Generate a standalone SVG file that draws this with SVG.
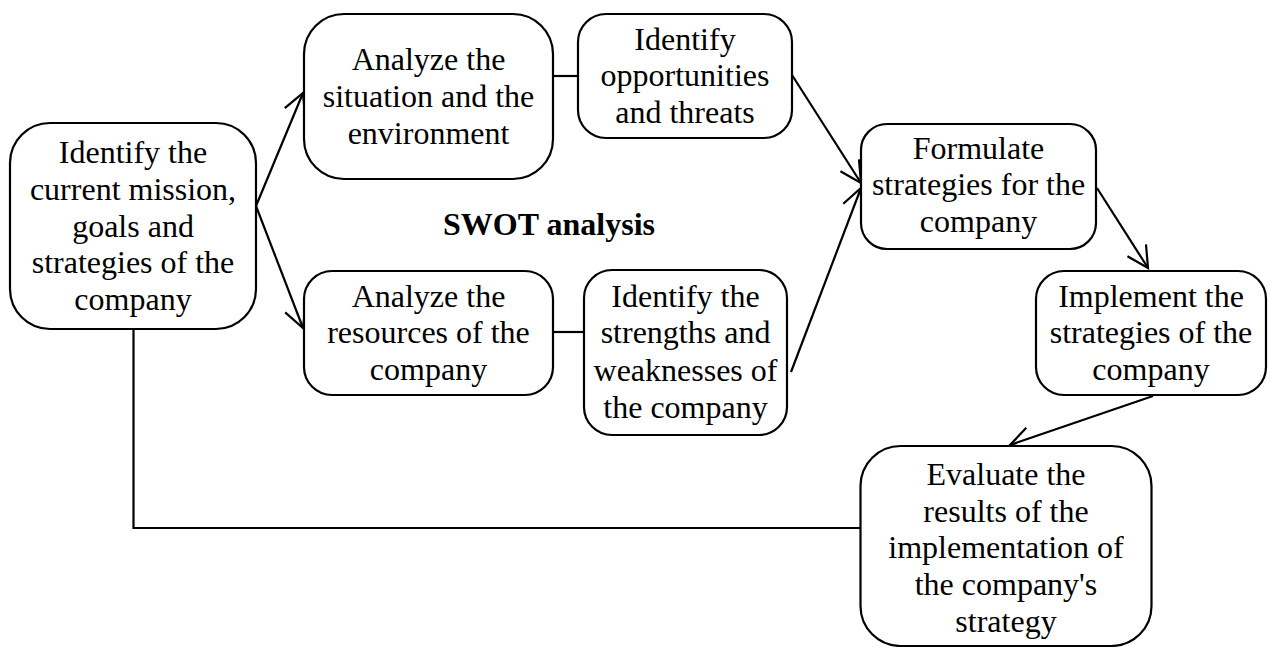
<svg xmlns="http://www.w3.org/2000/svg" width="1269" height="647" viewBox="0 0 1269 647">
<style>
.box{fill:#fff;stroke:#000;stroke-width:2.2}
.t{font-family:"Liberation Serif","Times New Roman",serif;font-size:32px;fill:#000;text-anchor:middle}
.b{font-weight:bold}
.ln{fill:none;stroke:#000;stroke-width:2.2}
</style>
<defs>
<marker id="ah" markerUnits="userSpaceOnUse" markerWidth="30" markerHeight="30" viewBox="-25 -15 30 30" refX="0" refY="0" orient="auto">
<path d="M-21,-11 L0,0 L-21,11" fill="none" stroke="#000" stroke-width="2.2"/>
</marker>
</defs>
<rect width="1269" height="647" fill="#fff"/>
<g id="connectors">
<line class="ln" x1="256" y1="206" x2="303" y2="93" marker-end="url(#ah)"/>
<line class="ln" x1="256" y1="206" x2="303" y2="328" marker-end="url(#ah)"/>
<line class="ln" x1="553" y1="76" x2="578" y2="76"/>
<line class="ln" x1="553" y1="332" x2="584" y2="332"/>
<line class="ln" x1="792" y1="75" x2="861" y2="183" marker-end="url(#ah)"/>
<line class="ln" x1="791" y1="372" x2="861" y2="188" marker-end="url(#ah)"/>
<line class="ln" x1="1097" y1="188" x2="1148" y2="268" marker-end="url(#ah)"/>
<line class="ln" x1="1153" y1="396" x2="1010" y2="445" marker-end="url(#ah)"/>
<polyline class="ln" points="133.5,329 133.5,528 860,528"/>
</g>
<g id="n_mission">
<rect class="box" x="10" y="123" width="246" height="206" rx="40"/>
<text class="t" x="133" y="163">Identify the</text>
<text class="t" x="133" y="200">current mission,</text>
<text class="t" x="133" y="237">goals and</text>
<text class="t" x="133" y="273">strategies of the</text>
<text class="t" x="133" y="310">company</text>
</g>
<g id="n_situation">
<rect class="box" x="304" y="14" width="249" height="165" rx="40"/>
<text class="t" x="428.5" y="70">Analyze the</text>
<text class="t" x="428.5" y="107">situation and the</text>
<text class="t" x="428.5" y="144">environment</text>
</g>
<g id="n_opportunities">
<rect class="box" x="578" y="14" width="214" height="124" rx="28"/>
<text class="t" x="685" y="50">Identify</text>
<text class="t" x="685" y="86">opportunities</text>
<text class="t" x="685" y="123">and threats</text>
</g>
<g id="n_swot">
<text class="t b" x="549" y="235">SWOT analysis</text>
</g>
<g id="n_resources">
<rect class="box" x="304" y="271" width="249" height="124" rx="28"/>
<text class="t" x="428.5" y="307">Analyze the</text>
<text class="t" x="428.5" y="343">resources of the</text>
<text class="t" x="428.5" y="380">company</text>
</g>
<g id="n_strengths">
<rect class="box" x="584" y="270" width="203" height="165" rx="28"/>
<text class="t" x="685.5" y="307">Identify the</text>
<text class="t" x="685.5" y="343">strengths and</text>
<text class="t" x="685.5" y="381">weaknesses of</text>
<text class="t" x="685.5" y="418">the company</text>
</g>
<g id="n_formulate">
<rect class="box" x="861" y="124" width="235" height="125" rx="26"/>
<text class="t" x="978.5" y="159">Formulate</text>
<text class="t" x="978.5" y="195">strategies for the</text>
<text class="t" x="978.5" y="232">company</text>
</g>
<g id="n_implement">
<rect class="box" x="1036" y="271" width="230" height="124" rx="28"/>
<text class="t" x="1151" y="307">Implement the</text>
<text class="t" x="1151" y="343">strategies of the</text>
<text class="t" x="1151" y="380">company</text>
</g>
<g id="n_evaluate">
<rect class="box" x="860.5" y="446" width="291" height="200" rx="40"/>
<text class="t" x="1006" y="485">Evaluate the</text>
<text class="t" x="1006" y="522">results of the</text>
<text class="t" x="1006" y="558">implementation of</text>
<text class="t" x="1006" y="595">the company's</text>
<text class="t" x="1006" y="632">strategy</text>
</g>
</svg>
